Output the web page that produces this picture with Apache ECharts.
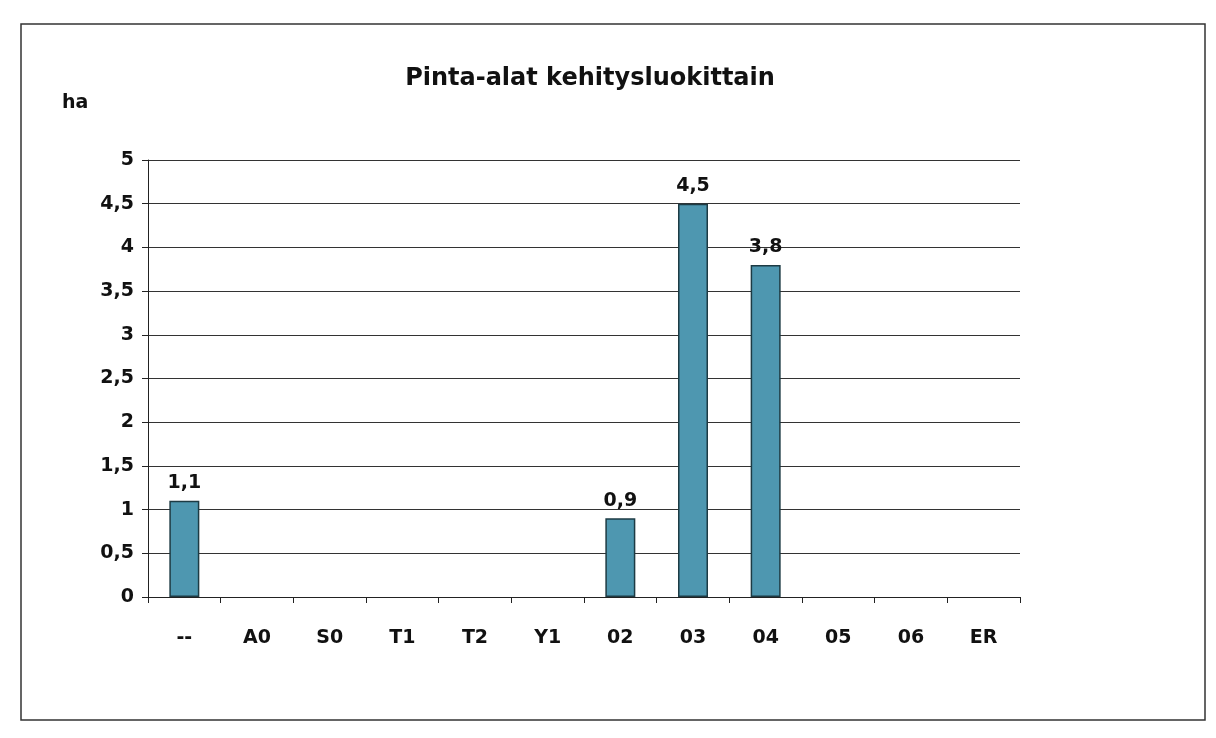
<!DOCTYPE html>
<html>
<head>
<meta charset="utf-8">
<script src="https://cdn.jsdelivr.net/npm/echarts@6/dist/echarts.min.js"></script>
<style>
html, body { margin: 0; padding: 0; background: #fff; }
#main { width: 1216px; height: 738px; }
</style>
</head>
<body>
<div id="main"></div>
<script>
// kehitysluokat ja pinta-alat (ha)
var categories = ['--', 'A0', 'S0', 'T1', 'T2', 'Y1', '02', '03', '04', '05', '06', 'ER'];
var areas = [1.1, 0, 0, 0, 0, 0, 0.9, 4.5, 3.8, 0, 0, 0];
var yTicks = [0, 0.5, 1, 1.5, 2, 2.5, 3, 3.5, 4, 4.5, 5];

var font = 'DejaVu Sans, Verdana, sans-serif';

function fmt(v) {
    return String(v).replace('.', ',');
}

// nollapalkeille ei reunaviivaa
var barData = areas.map(function (v) {
    return v ? v : {value: v, itemStyle: {borderWidth: 0}};
});

var option = {
    animation: false,
    backgroundColor: '#fff',
    title: {
        text: 'Pinta-alat kehitysluokittain',
        left: 585,
        top: 62,
        textAlign: 'center',
        textStyle: {fontFamily: font, fontSize: 24, fontWeight: 'bold', color: '#111'}
    },
    graphic: [
        {
            type: 'rect',
            shape: {x: 21, y: 24, width: 1184, height: 696},
            style: {fill: 'none', stroke: '#333', lineWidth: 1.5}
        },
        {
            type: 'text',
            left: 62,
            top: 94,
            style: {text: 'ha', font: 'bold 19px ' + font, fill: '#111'}
        }
    ],
    grid: {left: 148, top: 160, width: 872, height: 437},
    xAxis: {
        type: 'category',
        data: categories,
        axisLine: {lineStyle: {color: '#222', width: 1}},
        axisTick: {show: true, interval: 0, length: 6, lineStyle: {color: '#222'}},
        axisLabel: {
            interval: 0, margin: 32,
            fontFamily: font, fontSize: 19, fontWeight: 'bold', color: '#111'
        }
    },
    yAxis: {
        type: 'value',
        min: yTicks[0],
        max: yTicks[yTicks.length - 1],
        interval: 0.5,
        axisLine: {show: true, lineStyle: {color: '#222', width: 1}},
        axisTick: {show: true, length: 6, lineStyle: {color: '#222'}},
        splitLine: {show: true, lineStyle: {color: '#333', width: 1}},
        axisLabel: {
            margin: 14,
            fontFamily: font, fontSize: 19, fontWeight: 'bold', color: '#111',
            formatter: function (v) { return fmt(v); }
        }
    },
    series: [
        {
            type: 'bar',
            data: barData,
            barWidth: 30,
            itemStyle: {color: '#4e97b0', borderColor: '#1d3b44', borderWidth: 1.5},
            label: {
                show: true,
                position: 'top',
                distance: 8,
                fontFamily: font, fontSize: 19, fontWeight: 'bold', color: '#111',
                formatter: function (p) { return p.value ? fmt(p.value) : ''; }
            }
        }
    ]
};

var chart = echarts.init(document.getElementById('main'));
chart.setOption(option);
</script>
</body>
</html>
